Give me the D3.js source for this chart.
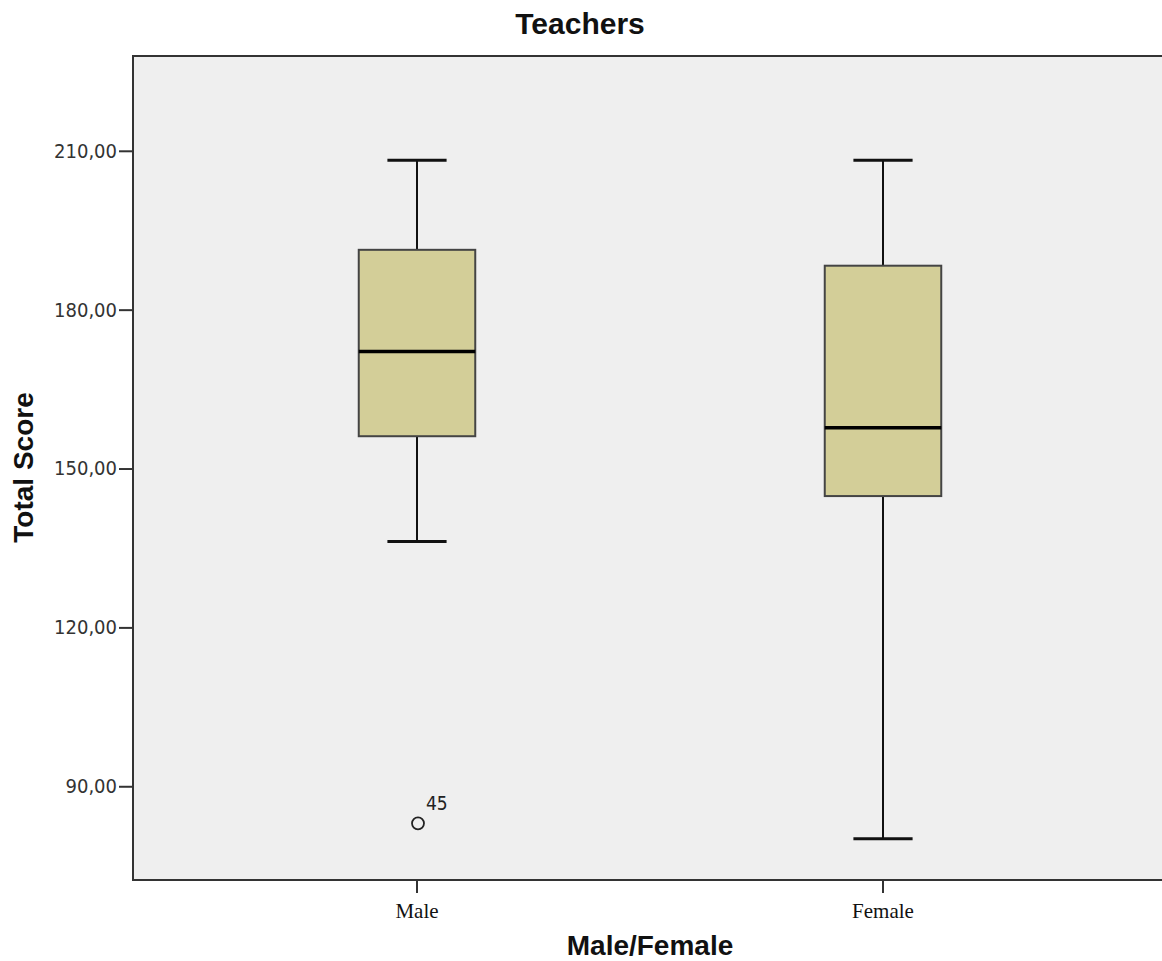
<!DOCTYPE html>
<html>
<head>
<meta charset="utf-8">
<script src="https://cdn.jsdelivr.net/npm/d3@7"></script>
<style>
  html, body { margin: 0; padding: 0; background: #fff; }
  svg { display: block; }
</style>
</head>
<body>
<svg id="chart" width="1162" height="961"></svg>
<script>
// values
const groups = ["Male", "Female"];
const whiskerLow = [136.2, 80.1];
const q1 = [156.1, 144.8];
const median = [172.1, 157.7];
const q3 = [191.3, 188.3];
const whiskerHigh = [208.2, 208.2];

const outlierGroup = ["Male"];
const outlierValue = [83.0];
const outlierCase = ["45"];

const yTicks = [90, 120, 150, 180, 210];

const svg = d3.select("#chart");
const margin = {top: 56, left: 133, bottom: 81};
const W = 1162, H = 961;
const plotBottom = H - margin.bottom;

const y = d3.scaleLinear()
    .domain([72.3, 227.9])
    .range([plotBottom, margin.top]);

const x = d3.scaleBand()
    .domain(groups)
    .range([184, 1116]);

const bw = x.bandwidth();
const boxW = bw * 0.25;
const capW = bw * 0.127;

const fmt = d3.formatLocale({decimal: ",", thousands: ".", grouping: [3], currency: ["", ""]}).format(".2f");

// plot background
svg.append("rect")
    .attr("x", margin.left)
    .attr("y", margin.top)
    .attr("width", W - margin.left + 10)
    .attr("height", plotBottom - margin.top)
    .attr("fill", "#efefef");

// y axis
const yAxis = svg.append("g")
    .attr("transform", `translate(${margin.left},0)`)
    .call(d3.axisLeft(y).tickValues(yTicks).tickFormat(fmt).tickSize(14).tickPadding(2));
yAxis.select(".domain").remove();
yAxis.selectAll(".tick line").attr("stroke", "#333").attr("stroke-width", 2);
yAxis.selectAll(".tick text")
    .attr("fill", "#333")
    .style("font-family", "'DejaVu Sans Condensed', 'DejaVu Sans', sans-serif")
    .style("font-size", "20px");

// x axis
const xAxis = svg.append("g")
    .attr("transform", `translate(0,${plotBottom})`)
    .call(d3.axisBottom(x).tickSize(13).tickPadding(6));
xAxis.select(".domain").remove();
xAxis.selectAll(".tick line").attr("stroke", "#333").attr("stroke-width", 2);
xAxis.selectAll(".tick text")
    .attr("fill", "#111")
    .attr("dy", "0.9em")
    .style("font-family", "'Liberation Serif', serif")
    .style("font-size", "21px");

// frame: left, top, bottom (no right border visible)
const frame = svg.append("g").attr("stroke", "#333").attr("stroke-width", 2).attr("fill", "none");
frame.append("path")
    .attr("d", `M${W + 10},${margin.top}H${margin.left}V${plotBottom}H${W + 10}`);

// boxes
const data = groups.map((g, i) => ({
  g, lo: whiskerLow[i], q1: q1[i], med: median[i], q3: q3[i], hi: whiskerHigh[i]
}));

const box = svg.append("g").selectAll("g")
    .data(data)
    .join("g")
    .attr("transform", d => `translate(${x(d.g) + bw / 2},0)`);

// whisker stems
box.append("line")
    .attr("y1", d => y(d.hi)).attr("y2", d => y(d.q3))
    .attr("stroke", "#111").attr("stroke-width", 2);
box.append("line")
    .attr("y1", d => y(d.q1)).attr("y2", d => y(d.lo))
    .attr("stroke", "#111").attr("stroke-width", 2);

// caps
box.append("line")
    .attr("x1", -capW / 2).attr("x2", capW / 2)
    .attr("y1", d => y(d.hi)).attr("y2", d => y(d.hi))
    .attr("stroke", "#111").attr("stroke-width", 3);
box.append("line")
    .attr("x1", -capW / 2).attr("x2", capW / 2)
    .attr("y1", d => y(d.lo)).attr("y2", d => y(d.lo))
    .attr("stroke", "#111").attr("stroke-width", 3);

// box body
box.append("rect")
    .attr("x", -boxW / 2)
    .attr("width", boxW)
    .attr("y", d => y(d.q3))
    .attr("height", d => y(d.q1) - y(d.q3))
    .attr("fill", "#d3ce98")
    .attr("stroke", "#444")
    .attr("stroke-width", 2);

// median
box.append("line")
    .attr("x1", -boxW / 2).attr("x2", boxW / 2)
    .attr("y1", d => y(d.med)).attr("y2", d => y(d.med))
    .attr("stroke", "#000").attr("stroke-width", 3.5);

// outliers
const out = svg.append("g").selectAll("g")
    .data(outlierValue.map((v, i) => ({g: outlierGroup[i], v, label: outlierCase[i]})))
    .join("g")
    .attr("transform", d => `translate(${x(d.g) + bw / 2 + 1},${y(d.v)})`);
out.append("circle")
    .attr("r", 6)
    .attr("fill", "none")
    .attr("stroke", "#222")
    .attr("stroke-width", 1.8);
out.append("text")
    .attr("x", 8)
    .attr("y", -13)
    .attr("fill", "#222")
    .style("font-family", "'DejaVu Sans Condensed', 'DejaVu Sans', sans-serif")
    .style("font-size", "19px")
    .text(d => d.label);

// titles
svg.append("text")
    .attr("x", 580)
    .attr("y", 34)
    .attr("text-anchor", "middle")
    .style("font-family", "'Liberation Sans', Arial, sans-serif")
    .style("font-weight", "bold")
    .style("font-size", "30px")
    .attr("fill", "#111")
    .text("Teachers");

svg.append("text")
    .attr("x", 650)
    .attr("y", 955)
    .attr("text-anchor", "middle")
    .style("font-family", "'Liberation Sans', Arial, sans-serif")
    .style("font-weight", "bold")
    .style("font-size", "28px")
    .attr("fill", "#111")
    .text("Male/Female");

svg.append("text")
    .attr("transform", `translate(33,${(390 + 545) / 2}) rotate(-90)`)
    .attr("text-anchor", "middle")
    .style("font-family", "'Liberation Sans', Arial, sans-serif")
    .style("font-weight", "bold")
    .style("font-size", "28px")
    .attr("fill", "#111")
    .text("Total Score");
</script>
</body>
</html>
